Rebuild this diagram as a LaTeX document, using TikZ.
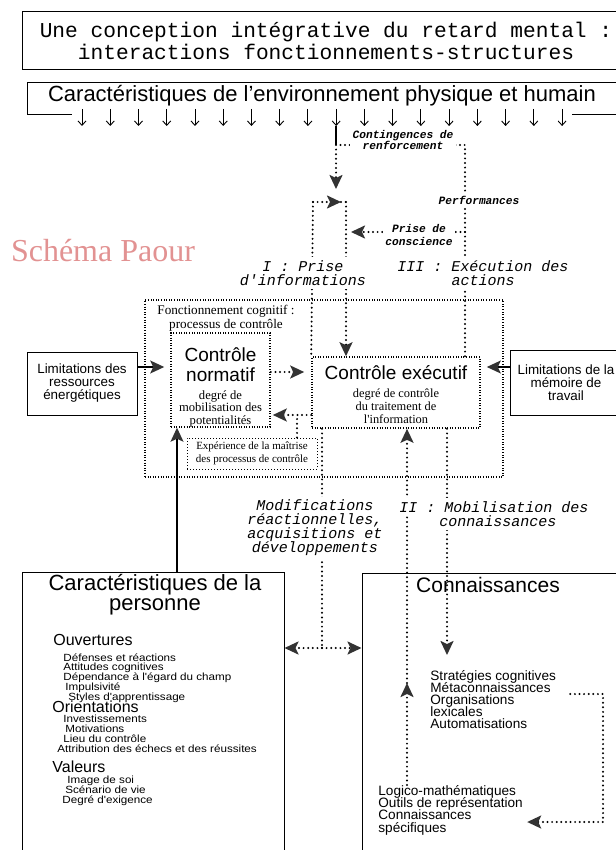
\documentclass[tikz,border=0pt]{standalone}
\usepackage{fontspec}
\setmainfont{Liberation Sans}
\setmonofont{Liberation Mono}
\newfontfamily\timesfont{Liberation Serif}
\newfontfamily\helvfont{Liberation Sans}
\newfontfamily\widefont[FakeStretch=1.12]{Liberation Sans}
\usetikzlibrary{arrows.meta}
\definecolor{paour}{RGB}{226,146,146}
\setlength{\lineskiplimit}{-20pt}

\begin{document}
\begin{tikzpicture}[x=0.5pt, y=-0.5pt,
    every node/.style={inner sep=0pt},
    framebox/.style={draw, line width=0.5pt},
    dotbox/.style={draw, line width=0.8pt, dash pattern=on 0.45pt off 0.85pt},
    finebox/.style={draw, line width=0.5pt, dash pattern=on 0.4pt off 1.1pt},
    dotline/.style={line width=1.1pt, line cap=round, dash pattern=on 0pt off 2.3pt},
    dothead/.style={-{Stealth[length=7pt, width=6.5pt, inset=1.5pt, color=black!80]}},
    arrow/.style={line width=0.6pt, -{Stealth[length=7pt, width=6.5pt, inset=1.5pt, color=black!80]}},
    envarrow/.style={line width=0.45pt, -{Straight Barb[length=2.2pt, width=4pt]}},
    flowlabel/.style={fill=white, inner sep=1.5pt, align=center, font=\fontsize{7.5}{7}\selectfont\ttfamily\itshape},
    tinylabel/.style={fill=white, inner sep=1.2pt, align=center, font=\fontsize{5.6}{5.4}\selectfont\ttfamily\itshape\bfseries},
    itemlist/.style={anchor=north west, align=left, font=\widefont\fontsize{5.2}{4.9}\selectfont},
    heading/.style={anchor=west, font=\fontsize{8}{8}\selectfont}
]
    \useasboundingbox (0,0) rectangle (615,850);

    % Title
    \node[framebox, minimum width=304pt, minimum height=29pt, align=center, font=\fontsize{10.6}{11}\selectfont\ttfamily] (title) at (326,41) {Une conception intégrative du retard mental :\\interactions fonctionnements-structures};

    % Environment
    \node[font=\fontsize{11}{12}\selectfont] (env) at (322,96) {Caractéristiques de l'environnement physique et humain};
    \draw[line width=0.5pt] (630,83) -| (27,115) -- (72,115);
    \draw[line width=0.5pt] (572,115) -- (630,115);
    \foreach \i in {0,...,17}
        \draw[envarrow] ({82+28.24*\i},109) -- ({82+28.24*\i},126);

    \node[font=\timesfont\fontsize{16}{16}\selectfont, text=paour] (paour) at (103,251) {Schéma Paour};

    % Cognitive functioning
    \node[dotbox, minimum width=179pt, minimum height=88.5pt] (cog) at (324,388.5) {};
    \node[font=\timesfont\fontsize{6.6}{7}\selectfont, align=center] (cogt) at (226,318.5) {Fonctionnement cognitif :\\processus de contrôle};
    \node[dotbox, minimum width=49.5pt, minimum height=43pt, align=center, font=\timesfont\fontsize{6.3}{6.3}\selectfont] (norm) at (220.5,380) {\rule{0pt}{14pt}{\helvfont\fontsize{9.5}{9.5}\selectfont Contrôle}\\[3.7pt]{\helvfont\fontsize{9.5}{9.5}\selectfont normatif}\\[2.7pt]degré de\\mobilisation des\\potentialités};
    \node[dotbox, minimum width=84pt, minimum height=35.5pt, align=center, font=\timesfont\fontsize{6.2}{6.5}\selectfont] (exec) at (396,392.5) {\rule{0pt}{9pt}{\helvfont\fontsize{9.5}{9.5}\selectfont Contrôle exécutif}\\[2.5pt]degré de contrôle\\du traitement de\\l'information};
    \node[finebox, minimum width=65pt, minimum height=15.5pt, align=center, font=\timesfont\fontsize{5.5}{6.5}\selectfont] (exp) at (252,453.5) {Expérience de la maîtrise\\des processus de contrôle};

    % Limitations
    \node[framebox, minimum width=55pt, minimum height=31.5pt, align=center, font=\fontsize{6.7}{6.5}\selectfont] (limr) at (82,383.5) {Limitations des\\ressources\\énergétiques};
    \node[framebox, minimum width=56pt, minimum height=32.5pt, align=center, font=\fontsize{6.7}{6.5}\selectfont] (limm) at (566,382.5) {Limitations de la\\mémoire de\\travail};

    % Person
    \node[framebox, minimum width=131pt, minimum height=150pt] (pers) at (153,722) {};
    \node[align=center, font=\fontsize{11}{10}\selectfont] (perst) at (155,595) {Caractéristiques de la\\personne};
    \node[heading] (ouv) at (53,640) {Ouvertures};
    \node[itemlist] (ouvl) at (63,653) {Défenses et réactions\\Attitudes cognitives\\Dépendance à l'égard du champ\\\hspace*{1pt}Impulsivité\\\hspace*{2.5pt}Styles d'apprentissage};
    \node[heading] (ori) at (52,707) {Orientations};
    \node[itemlist] (oril) at (63,715) {Investissements\\\hspace*{1pt}Motivations\\Lieu du contrôle\\\hspace*{-3pt}Attribution des échecs et des réussites};
    \node[heading] (val) at (52,767) {Valeurs};
    \node[itemlist] (vall) at (62,776) {\hspace*{2.5pt}Image de soi\\\hspace*{1.5pt}Scénario de vie\\Degré d'exigence};

    % Knowledge
    \node[framebox, minimum width=139pt, minimum height=150pt] (conn) at (501,723) {};
    \node[font=\fontsize{10.5}{10}\selectfont] (connt) at (488,585) {Connaissances};
    \node[anchor=north west, align=left, font=\fontsize{6.8}{6}\selectfont] (strat) at (430,670) {Stratégies cognitives\\Métaconnaissances\\Organisations\\lexicales\\Automatisations};
    \node[anchor=north west, align=left, font=\fontsize{6.8}{6.1}\selectfont] (logi) at (378,785) {Logico-mathématiques\\Outils de représentation\\Connaissances\\spécifiques};

    % Junctions
    \coordinate (envtip) at (336,126);
    \coordinate (cont) at (336,145);
    \coordinate (perf) at (465,145);
    \coordinate (pcon) at (465,232);
    \coordinate (chin) at (336,189);
    \coordinate (chl) at (313,202);
    \coordinate (chm) at (341,202);
    \coordinate (chr) at (346,202);
    \coordinate (lim) at (0,367);
    \coordinate (fwd) at (0,372);
    \coordinate (back) at (297,415);
    \coordinate (pin) at (177,0);
    \coordinate (modj) at (322,648);
    \coordinate (mobup) at (407,683);
    \coordinate (mobdn) at (447,655);
    \coordinate (loopt) at (603,694);
    \coordinate (loopb) at (603,822);

    % Feedback loop
    \draw[line width=0.6pt] (envtip) -- (cont);
    \draw[dotline, dothead] (cont) -- (chin);
    \draw[dotline] (exec.north -| perf) -- (perf) -- (cont);
    \draw[dotline, dothead, shorten >=2.5pt] (pcon) -- (pcon -| chr);
    \draw[dotline, dothead] (chl) -- (chm);
    \draw[dotline] (chm) -- (chr);
    \draw[dotline] (chl) -- (exec.north west);
    \draw[dotline, dothead] (chr) -- (chr |- exec.north);

    % Arrows into the control boxes
    \draw[arrow, shorten >=3pt] (lim -| limr.east) -- (lim -| norm.west);
    \draw[arrow, shorten >=3pt] (lim -| limm.west) -- (lim -| exec.east);
    \draw[dotline, dothead, shorten >=3.5pt] (fwd -| norm.east) -- (fwd -| exec.west);
    \draw[dotline, dothead, shorten >=1pt] (back -| exec.west) -- (back -| norm.east);
    \draw[dotline] (exp.north -| back) -- (back);
    \draw[arrow, line width=0.7pt] (pin |- pers.north) -- (pin |- norm.south);

    % Links to the bottom boxes
    \draw[dotline] (exec.south -| modj) -- (modj);
    \draw[dotline, dothead] (modj) -- (modj -| pers.east);
    \draw[dotline, dothead] (modj) -- (modj -| conn.west);
    \draw[dotline, dothead] (logi.north -| mobup) -- (mobup);
    \draw[dotline, dothead] (mobup) -- (exec.south -| mobup);
    \draw[dotline, dothead] (exec.south -| mobdn) -- (mobdn);
    \draw[dotline, dothead] ([xshift=7pt]strat.east |- loopt) -- (loopt) -- (loopb) -- ([xshift=2pt]logi.east |- loopb);

    % Labels
    \node[tinylabel] (contl) at (403,140) {Contingences de\\renforcement};
    \node[tinylabel] (perfl) at (479,200) {Performances};
    \node[tinylabel] (pconl) at (419,235) {Prise de\\[1.5pt]conscience};
    \node[flowlabel] (pinfo) at (303,273) {I : Prise\\d'informations};
    \node[flowlabel] (execl) at (483,273) {III : Exécution des\\actions};
    \node[flowlabel] (modl) at (315,528) {Modifications\\réactionnelles,\\acquisitions et\\développements};
    \node[flowlabel] (mobl) at (494,507) {II : Mobilisation des};
    \node[flowlabel] (mobl2) at (498,521) {connaissances};
\end{tikzpicture}
\end{document}
